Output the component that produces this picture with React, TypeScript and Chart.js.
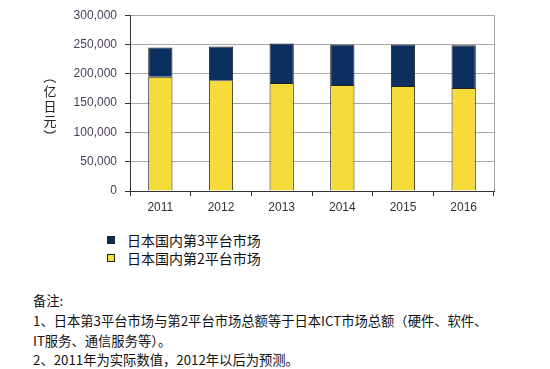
import React, { useEffect, useRef } from "react";
import { Chart, registerables } from "chart.js";

Chart.register(...registerables);

const years = ["2011", "2012", "2013", "2014", "2015", "2016"];
const platform2 = [195000, 188800, 184200, 180900, 179200, 175800];
const platform3 = [50000, 57800, 67400, 69100, 70800, 73100];
const label3 = "日本国内第3平台市场";
const label2 = "日本国内第2平台市场";
const yTitle = "（亿日元）";
const noteLines = [
  "备注:",
  "1、日本第3平台市场与第2平台市场总额等于日本ICT市场总额（硬件、软件、",
  "IT服务、通信服务等）。",
  "2、2011年为实际数值，2012年以后为预测。",
];

const NAVY = "#0b2f5e";
const YELLOW = "#f6dc3a";
const CJK = '"Noto Sans CJK SC", "Noto Sans", sans-serif';

const rightBorder = {
  id: "rightBorder",
  beforeDatasetsDraw(chart: any) {
    const { ctx, chartArea } = chart;
    ctx.save();
    ctx.strokeStyle = "#a8a8a8";
    ctx.lineWidth = 1;
    ctx.beginPath();
    ctx.moveTo(Math.round(chartArea.right) + 0.5, chartArea.top);
    ctx.lineTo(Math.round(chartArea.right) + 0.5, chartArea.bottom);
    ctx.stroke();
    ctx.restore();
  },
};

export default function App() {
  const ref = useRef<HTMLCanvasElement | null>(null);

  useEffect(() => {
    if (!ref.current) return;
    const chart = new Chart(ref.current, {
      type: "bar",
      data: {
        labels: years,
        datasets: [
          {
            label: label2,
            data: platform2,
            backgroundColor: YELLOW,
            borderColor: "#222",
            borderWidth: 1,
            barPercentage: 0.4,
            categoryPercentage: 1,
          },
          {
            label: label3,
            data: platform3,
            backgroundColor: NAVY,
            borderColor: "#222",
            borderWidth: 1,
            barPercentage: 0.4,
            categoryPercentage: 1,
          },
        ],
      },
      options: {
        animation: false,
        responsive: false,
        maintainAspectRatio: false,
        layout: { padding: { left: 0, right: 56, top: 13, bottom: 0 } },
        plugins: {
          legend: { display: false },
          tooltip: { enabled: false },
        },
        scales: {
          x: {
            stacked: true,
            grid: {
              display: true,
              drawOnChartArea: false,
              drawTicks: true,
              tickLength: 5,
              tickColor: "#333",
              offset: true,
            },
            border: { color: "#333", width: 1 },
            ticks: {
              color: "#333",
              padding: 4,
              font: { family: '"Liberation Sans", Arial, sans-serif', size: 12 },
            },
            afterFit(scale: any) {
              scale.height = 25;
            },
          },
          y: {
            stacked: true,
            min: 0,
            max: 300000,
            grid: {
              color: "#a8a8a8",
              tickColor: "#333",
              tickLength: 5,
            },
            border: { color: "#333", width: 1 },
            ticks: {
              stepSize: 50000,
              color: "#4a3d5c",
              padding: 8,
              font: { family: '"Liberation Sans", Arial, sans-serif', size: 12 },
              callback: (v: any) => Number(v).toLocaleString("en-US"),
            },
            afterFit(scale: any) {
              scale.width = 130;
            },
          },
        },
      },
      plugins: [rightBorder],
    });
    return () => chart.destroy();
  }, []);

  const legendItems = [
    { label: label3, color: NAVY },
    { label: label2, color: YELLOW },
  ];

  const titleChars = Array.from(yTitle);

  return (
    <div
      style={{
        position: "absolute",
        left: 0,
        top: 0,
        width: 550,
        height: 369,
        background: "#fff",
        overflow: "hidden",
      }}
    >
      <canvas
        ref={ref}
        width={550}
        height={216}
        style={{ position: "absolute", left: 0, top: 0, width: 550, height: 216 }}
      />
      <div
        style={{
          position: "absolute",
          left: 43,
          top: 76,
          width: 14,
          fontFamily: CJK,
          fontSize: 13,
          color: "#222",
        }}
      >
        {titleChars.map((c, i) => {
          const open = c === "（";
          const close = c === "）";
          const paren = open || close;
          return (
            <div
              key={i}
              style={{
                position: "relative",
                width: 14,
                height: paren ? 8 : 15,
              }}
            >
              <span
                style={{
                  position: "absolute",
                  left: 0,
                  top: open ? -6 : close ? 0 : 0,
                  width: 14,
                  height: 14,
                  lineHeight: "14px",
                  textAlign: "center",
                  transform: paren ? "rotate(90deg)" : "none",
                  transformOrigin: "50% 50%",
                  whiteSpace: "nowrap",
                }}
              >
                {c}
              </span>
            </div>
          );
        })}
      </div>
      {legendItems.map((it, i) => (
        <div
          key={it.label}
          style={{
            position: "absolute",
            left: 107,
            top: 231 + i * 18,
            height: 18,
            display: "flex",
            alignItems: "center",
            fontFamily: CJK,
            fontSize: 14,
            lineHeight: "18px",
            color: "#111",
            whiteSpace: "nowrap",
          }}
        >
          <span
            style={{
              display: "inline-block",
              width: 6,
              height: 6,
              background: it.color,
              border: "1px solid #222",
              marginRight: 12,
            }}
          />
          {it.label}
        </div>
      ))}
      <div
        style={{
          position: "absolute",
          left: 33,
          top: 291,
          fontFamily: CJK,
          fontSize: 13.3,
          lineHeight: "19.8px",
          color: "#111",
          whiteSpace: "nowrap",
        }}
      >
        {noteLines.map((l) => (
          <div key={l}>{l}</div>
        ))}
      </div>
    </div>
  );
}
